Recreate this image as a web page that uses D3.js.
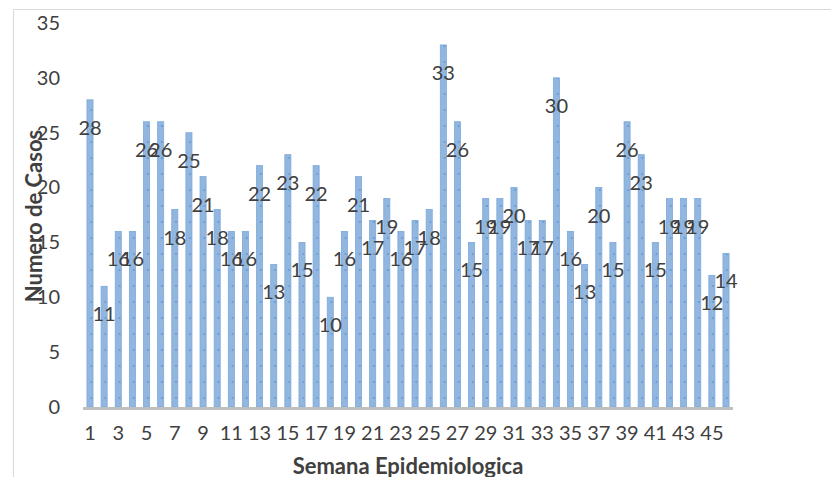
<!DOCTYPE html>
<html>
<head>
<meta charset="utf-8">
<script src="https://cdn.jsdelivr.net/npm/d3@7"></script>
<style>
  body { margin: 0; background: #fff; }
  svg { display: block; font-family: Lato, "Open Sans", sans-serif; }
</style>
</head>
<body>
<svg id="chart" width="831" height="477"></svg>
<script>
const weeks = d3.range(1, 47);
const cases = [28, 11, 16, 16, 26, 26, 18, 25, 21, 18, 16, 16, 22, 13, 23, 15, 22, 10, 16, 21,
  17, 19, 16, 17, 18, 33, 26, 15, 19, 19, 20, 17, 17, 30, 16, 13, 20, 15, 26, 23,
  15, 19, 19, 19, 12, 14];
const yTicks = [0, 5, 10, 15, 20, 25, 30, 35];
const xTickLabels = weeks.filter(w => w % 2 === 1);

const width = 831, height = 477;
const margin = { top: 23, right: 98, bottom: 69, left: 83 };

const svg = d3.select("#chart");

// frame (cropped chart area border)
svg.append("path")
  .attr("d", `M13.5,${height}V9.5H${width}`)
  .attr("fill", "none")
  .attr("stroke", "#d9d9d9")
  .attr("stroke-width", 1);

const x = d3.scaleBand()
  .domain(weeks)
  .range([margin.left, width - margin.right])
  .paddingInner(0.57)
  .paddingOuter(0.28);

const y = d3.scaleLinear()
  .domain([0, 35])
  .range([height - margin.bottom - 1, margin.top]);

// dotted fill like the original
const defs = svg.append("defs");
const pat = defs.append("pattern")
  .attr("id", "dots")
  .attr("patternUnits", "userSpaceOnUse")
  .attr("width", 14.13)
  .attr("height", 16)
  .attr("x", 0)
  .attr("y", y(0));
pat.append("rect").attr("width", 14.13).attr("height", 16).attr("fill", "#92b6de");
pat.append("rect").attr("x", 5.5).attr("y", 6).attr("width", 2).attr("height", 2).attr("fill", "#6a9fd8");

// y axis labels
svg.append("g")
  .attr("transform", `translate(${margin.left - 23},0)`)
  .call(d3.axisLeft(y).tickValues(yTicks).tickSize(0).tickPadding(0))
  .call(g => g.select(".domain").remove())
  .call(g => g.selectAll("text")
    .attr("fill", "#404040")
    .attr("font-size", 20)
    .attr("font-family", "Lato, sans-serif"));

// bars
svg.append("g")
  .selectAll("rect")
  .data(cases)
  .join("rect")
  .attr("x", (d, i) => x(weeks[i]))
  .attr("y", d => y(d))
  .attr("width", x.bandwidth())
  .attr("height", d => y(0) - y(d))
  .attr("fill", "url(#dots)")
  .attr("stroke", "#7aa9dc")
  .attr("stroke-width", 0.8);

// baseline
svg.append("line")
  .attr("x1", margin.left)
  .attr("x2", width - margin.right)
  .attr("y1", y(0) + 1.5)
  .attr("y2", y(0) + 1.5)
  .attr("stroke", "#bfbfbf")
  .attr("stroke-width", 3);

// x axis labels
svg.append("g")
  .attr("transform", `translate(0,${y(0) + 19})`)
  .call(d3.axisBottom(x).tickValues(xTickLabels).tickSize(0).tickPadding(0))
  .call(g => g.select(".domain").remove())
  .call(g => g.selectAll("text")
    .attr("fill", "#404040")
    .attr("font-size", 20)
    .attr("font-family", "Lato, sans-serif"));

// data labels
svg.append("g")
  .selectAll("text")
  .data(cases)
  .join("text")
  .attr("x", (d, i) => x(weeks[i]) + x.bandwidth() / 2)
  .attr("y", d => y(d) + 27)
  .attr("text-anchor", "middle")
  .attr("dominant-baseline", "central")
  .attr("fill", "#404040")
  .attr("font-size", 20)
  .text(d => d);

// axis titles
svg.append("text")
  .attr("x", 408)
  .attr("y", 465)
  .attr("text-anchor", "middle")
  .attr("dominant-baseline", "central")
  .attr("font-weight", 700)
  .attr("font-size", 22)
  .attr("fill", "#404040")
  .text("Semana Epidemiologica");

svg.append("text")
  .attr("transform", "translate(33,216) rotate(-90)")
  .attr("text-anchor", "middle")
  .attr("dominant-baseline", "central")
  .attr("font-weight", 700)
  .attr("font-size", 22)
  .attr("fill", "#404040")
  .text("Numero de Casos");
</script>
</body>
</html>
